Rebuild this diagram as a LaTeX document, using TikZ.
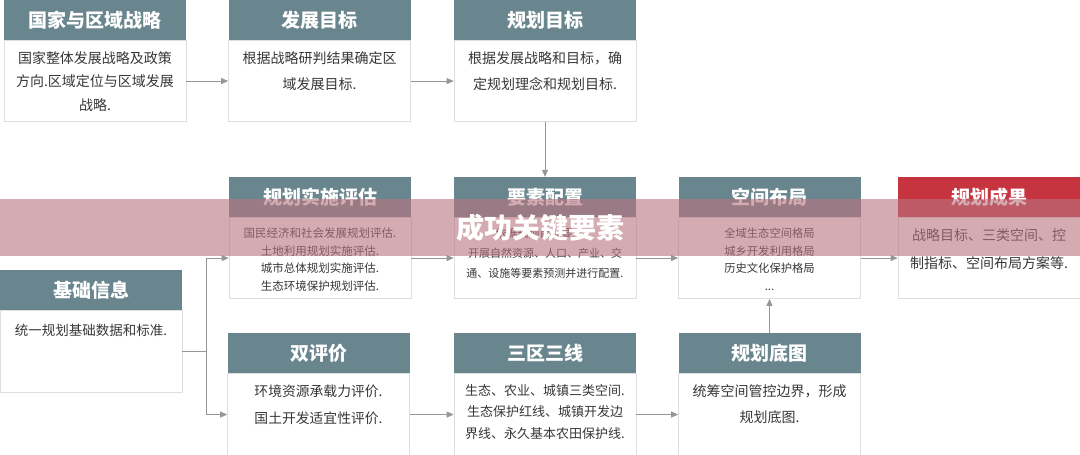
\documentclass[tikz,border=0pt]{standalone}
\usepackage{fontspec}
\setmainfont{Noto Sans CJK SC}
\usetikzlibrary{arrows.meta, positioning}
\definecolor{Hd}{RGB}{105,133,141}
\definecolor{Hr}{RGB}{198,52,64}
\definecolor{Bx}{RGB}{222,222,222}
\definecolor{Tx}{RGB}{55,55,55}
\definecolor{Ln}{RGB}{150,150,150}
\definecolor{Bn}{RGB}{185,115,128}
\tikzset{
  hdr/.style  = {fill=Hd, text=white, font=\fontsize{19}{19}\selectfont\bfseries,
                 minimum width=182pt, minimum height=40pt, inner sep=0pt},
  hdrr/.style = {hdr, fill=Hr},
  bdy/.style  = {draw=Bx, fill=white, line width=0.7pt,
                 minimum width=182pt, minimum height=81pt, inner sep=0pt},
  txt/.style  = {align=center, text=Tx, inner sep=0pt},
  ln/.style   = {draw=Ln, line width=0.8pt},
  arr/.style  = {ln, -{Triangle[length=7pt, width=6pt]}},
  banner/.style = {fill=Bn, fill opacity=0.6, text opacity=1, text=white,
                 font=\fontsize{28}{28}\selectfont\bfseries,
                 minimum width=1080pt, minimum height=57pt, inner sep=0pt},
}

\begin{document}
\begin{tikzpicture}[x=1pt, y=-1pt]
\useasboundingbox (0,0) rectangle (1080,455);

%% top row
\node[hdr] (h-gj) at (95,20) {国家与区域战略};
\node[bdy, below=0pt of h-gj] (b-gj) {};
\node[txt, font=\fontsize{14}{23.5}\selectfont, below=11pt of b-gj.north] (t-gj)
  {国家整体发展战略及政策\\方向.区域定位与区域发展\\战略.};

\node[hdr] (h-fz) at (319.5,20) {发展目标};
\node[bdy, below=0pt of h-fz] (b-fz) {};
\node[txt, font=\fontsize{14}{26}\selectfont, below=11pt of b-fz.north] (t-fz)
  {根据战略研判结果确定区\\域发展目标.};

\node[hdr] (h-gm) at (545,20) {规划目标};
\node[bdy, below=0pt of h-gm] (b-gm) {};
\node[txt, font=\fontsize{14}{26}\selectfont, below=11pt of b-gm.north] (t-gm)
  {根据发展战略和目标，确\\定规划理念和规划目标.};

%% middle row
\node[hdr] (h-pg) at (320,197) {规划实施评估};
\node[bdy, below=0pt of h-pg] (b-pg) {};
\node[txt, font=\fontsize{11.5}{17.5}\selectfont, below=10.5pt of b-pg.north] (t-pg)
  {国民经济和社会发展规划评估.\\土地利用规划实施评估.\\城市总体规划实施评估.\\生态环境保护规划评估.};

\node[hdr] (h-ys) at (545,197) {要素配置};
\node[bdy, below=0pt of h-ys] (b-ys) {};
\node[txt, font=\fontsize{11}{20}\selectfont, below=10.5pt of b-ys.north] (t-ys)
  {依据规划目标要求，\\开展自然资源、人口、产业、交\\通、设施等要素预测并进行配置.};

\node[hdr] (h-kj) at (769.5,197) {空间布局};
\node[bdy, below=0pt of h-kj] (b-kj) {};
\node[txt, font=\fontsize{11.3}{17.5}\selectfont, below=10.5pt of b-kj.north] (t-kj)
  {全域生态空间格局\\城乡开发利用格局\\历史文化保护格局\\...};

\node[hdrr] (h-cg) at (989,197) {规划成果};
\node[bdy, below=0pt of h-cg] (b-cg) {};
\node[txt, font=\fontsize{14}{28}\selectfont, below=11pt of b-cg.north] (t-cg)
  {战略目标、三类空间、控\\制指标、空间布局方案等.};

%% basis
\node[hdr] (h-jc) at (91,290) {基础信息};
\node[bdy, below=0pt of h-jc, minimum height=82pt] (b-jc) {};
\node[txt, font=\fontsize{13.5}{24}\selectfont, below=13.5pt of b-jc.north] (t-jc)
  {统一规划基础数据和标准.};

%% bottom row
\node[hdr] (h-sp) at (318.5,353) {双评价};
\node[bdy, below=0pt of h-sp, minimum height=82pt] (b-sp) {};
\node[txt, font=\fontsize{13.8}{27}\selectfont, below=11.5pt of b-sp.north] (t-sp)
  {环境资源承载力评价.\\国土开发适宜性评价.};

\node[hdr] (h-sq) at (545,353) {三区三线};
\node[bdy, below=0pt of h-sq, minimum height=82pt] (b-sq) {};
\node[txt, font=\fontsize{13}{21.5}\selectfont, below=11pt of b-sq.north] (t-sq)
  {生态、农业、城镇三类空间.\\生态保护红线、城镇开发边\\界线、永久基本农田保护线.};

\node[hdr] (h-dt) at (769.5,353) {规划底图};
\node[bdy, below=0pt of h-dt, minimum height=82pt] (b-dt) {};
\node[txt, font=\fontsize{14}{26}\selectfont, below=11.5pt of b-dt.north] (t-dt)
  {统筹空间管控边界，形成\\规划底图.};

%% connectors
\draw[arr] (b-gj) -- (b-fz);
\draw[arr] (b-fz) -- (b-gm);
\draw[arr] (b-gm) -- (h-ys);
\draw[arr] (b-pg) -- (b-ys);
\draw[arr] (b-ys) -- (b-kj);
\draw[arr] (b-kj) -- (b-cg);
\draw[arr] (b-sp) -- (b-sq);
\draw[arr] (b-sq) -- (b-dt);
\draw[arr] (h-dt) -- (b-kj);

\coordinate[right=24pt of b-jc.east] (fork);
\draw[ln]  (b-jc.east) -- (fork);
\draw[arr] (fork) |- (b-pg.west);
\draw[arr] (fork) |- (b-sp.west);

%% banner
\node[banner] (bnr) at (540,227.5) {成功关键要素};

\end{tikzpicture}
\end{document}
